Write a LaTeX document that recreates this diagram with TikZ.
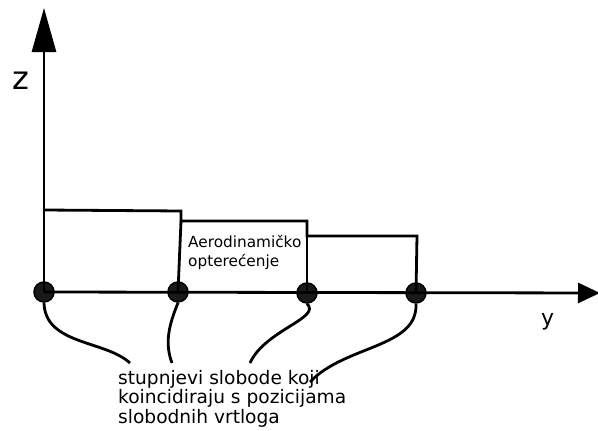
\documentclass[tikz,border=0pt]{standalone}
\usepackage{fontspec}
\setmainfont{DejaVu Sans}
\usetikzlibrary{arrows.meta}
\begin{document}
\begin{tikzpicture}[x=1pt,y=-1pt]
        \useasboundingbox (0,0) rectangle (598,431);
        \tikzset{dof/.style={draw, circle, fill=black!90, line width=1.5pt, minimum size=20pt, inner sep=0pt}}

        % osi
        \coordinate (o) at (44,292);
        \coordinate (ztip) at (44,8);
        \coordinate (ytip) at (600,293);
        \node[anchor=base west, inner sep=0pt, font=\fontsize{32}{36}\selectfont] (zlab) at (12,89) {z};
        \node[anchor=base west, inner sep=0pt, font=\fontsize{22}{26}\selectfont] (ylab) at (541,325) {y};

        % cvorovi
        \node[dof] (1) at (44,292) {};
        \node[dof] (2) at (178,292) {};
        \node[dof] (3) at (307,293) {};
        \node[dof] (4) at (416,293) {};

        \path[draw,line width=2.8pt,-{Triangle[length=44pt,width=24pt]}] (o) -- (ztip);
        \path[draw,line width=2.8pt,-{Triangle[length=22pt,width=20pt]}] (o) -- (ytip);

        % opterecenje
        \path[draw,line width=2.8pt] (44,210) -- (181,211) -- (181,221) -- (307,221) -- (307,236) -- (417,236) -- (4.center);
        \path[draw,line width=2.8pt] (181,221) -- (2.center);
        \path[draw,line width=2.8pt] (3.center) -- (307,236);

        \node[anchor=base west, inner sep=0pt, align=left, font=\fontsize{15.3}{19}\selectfont] (load) at (188,266) {Aerodinamičko\\opterećenje};
        \node[anchor=base west, inner sep=0pt, align=left, font=\fontsize{18.6}{19.5}\selectfont] (note) at (118,423) {stupnjevi slobode koji\\koincidiraju s pozicijama\\slobodnih vrtloga};

        % veze
        \coordinate (c1) at (130,363);
        \coordinate (c2) at (172,363);
        \coordinate (c3) at (250,363);
        \coordinate (c4) at (310,382);
        \path[draw,line width=2.8pt] (1.south) .. controls (45,345) and (105,340) .. (c1);
        \path[draw,line width=2.8pt] (2.south) .. controls (172,318) and (163,340) .. (c2);
        \path[draw,line width=2.8pt] (3.south) .. controls (322,318) and (265,330) .. (c3);
        \path[draw,line width=2.8pt] (4.south) .. controls (418,348) and (345,345) .. (c4);
    \end{tikzpicture}
\end{document}
